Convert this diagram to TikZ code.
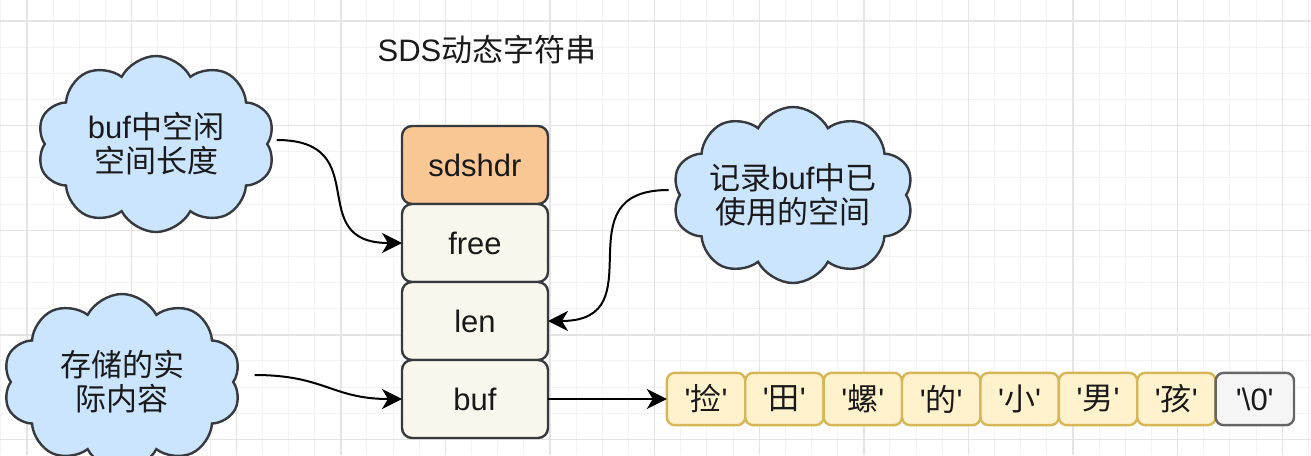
\documentclass[tikz,border=0pt]{standalone}
\usepackage{fontspec}
\setmainfont{Liberation Sans}
\newfontfamily\cjk{Noto Sans CJK SC}
\usepackage{tikz}
\usetikzlibrary{arrows.meta,positioning,shapes.symbols}
\definecolor{boxline}{HTML}{36393D}
\definecolor{hdrfill}{HTML}{F9C793}
\definecolor{fieldfill}{HTML}{F9F7ED}
\definecolor{cellfill}{HTML}{FFF2CC}
\definecolor{cellline}{HTML}{D6B656}
\definecolor{nullfill}{HTML}{F5F5F5}
\definecolor{nullline}{HTML}{666666}
\definecolor{notefill}{HTML}{CCE5FF}
\definecolor{inkcol}{HTML}{1A1A1A}
\definecolor{minorgrid}{HTML}{F3F3F3}
\definecolor{majorgrid}{HTML}{E4E4E4}
\newcommand{\chq}[1]{\textquotesingle{\cjk #1}\textquotesingle}

\begin{document}
\begin{tikzpicture}[
  x=0.5pt, y=-0.5pt,
  txt/.style={text=inkcol, font=\fontsize{15.5}{17}\selectfont, align=center},
  field/.style={txt, draw=boxline, fill=fieldfill, line width=1.2pt, rounded corners=5pt,
    minimum width=73pt, minimum height=39pt, inner sep=0pt, outer sep=0pt},
  cell/.style={txt, draw=cellline, fill=cellfill, line width=1.2pt, rounded corners=4pt,
    minimum width=39.2pt, minimum height=26.15pt, inner sep=0pt, outer sep=0pt},
  note/.style={txt, cloud, cloud puffs=10, cloud puff arc=125, cloud ignores aspect,
    draw=boxline, fill=notefill, line width=1.2pt, minimum width=119pt, minimum height=88pt, inner sep=0pt},
  link/.style={draw=black, line width=1pt, -{Stealth[length=10pt,width=10pt,inset=3pt]}}
]
  % background grid
  \useasboundingbox (0,0) rectangle (1311,455);
  \fill[white] (0,0) rectangle (1311,455);
  \foreach \i in {0,...,50} \draw[minorgrid, line width=0.5pt] ({0.85+26.15*\i},0) -- ({0.85+26.15*\i},455);
  \foreach \i in {0,...,16} \draw[minorgrid, line width=0.5pt] (0,{21+26.15*\i}) -- (1311,{21+26.15*\i});
  \foreach \i in {0,...,12} \draw[majorgrid, line width=0.7pt] ({27+104.6*\i},0) -- ({27+104.6*\i},455);
  \foreach \i in {0,...,4} \draw[majorgrid, line width=0.7pt] (0,{21+104.6*\i}) -- (1311,{21+104.6*\i});

  \node[txt] (title) at (487,50) {SDS{\cjk 动态字符串}};

  % sdshdr struct
  \node[field, fill=hdrfill] (hdr) at (475,165) {sdshdr};
  \node[field, below=0pt of hdr] (free) {free};
  \node[field, below=0pt of free] (len) {len};
  \node[field, below=0pt of len] (buf) {buf};

  % buf contents
  \node[cell] (c1) at (706,399) {\chq{捡}};
  \node[cell, right=0pt of c1] (c2) {\chq{田}};
  \node[cell, right=0pt of c2] (c3) {\chq{螺}};
  \node[cell, right=0pt of c3] (c4) {\chq{的}};
  \node[cell, right=0pt of c4] (c5) {\chq{小}};
  \node[cell, right=0pt of c5] (c6) {\chq{男}};
  \node[cell, right=0pt of c6] (c7) {\chq{孩}};
  \node[cell, draw=nullline, fill=nullfill, right=0pt of c7] (c8) {\textquotesingle\textbackslash 0\textquotesingle};

  % notes
  \node[note] (freenote) at (156,144) {buf{\cjk 中空闲}\\{\cjk 空间长度}};
  \node[note] (lennote) at (793,195) {{\cjk 记录}buf{\cjk 中已}\\{\cjk 使用的空间}};
  \node[note] (bufnote) at (122,382) {{\cjk 存储的实}\\{\cjk 际内容}};

  \draw[link] ([xshift=4pt,yshift=2pt]freenote.east) .. controls +(100,0) and +(-100,0) .. (free.west);
  \draw[link] ([xshift=-5pt,yshift=2.5pt]lennote.west) .. controls +(-110,0) and +(110,0) .. (len.east);
  \draw[link] ([xshift=10pt,yshift=3.5pt]bufnote.east) .. controls +(70,0) and +(-70,0) .. (buf.west);
  \draw[link] (buf.east) -- (c1.west);
\end{tikzpicture}
\end{document}
